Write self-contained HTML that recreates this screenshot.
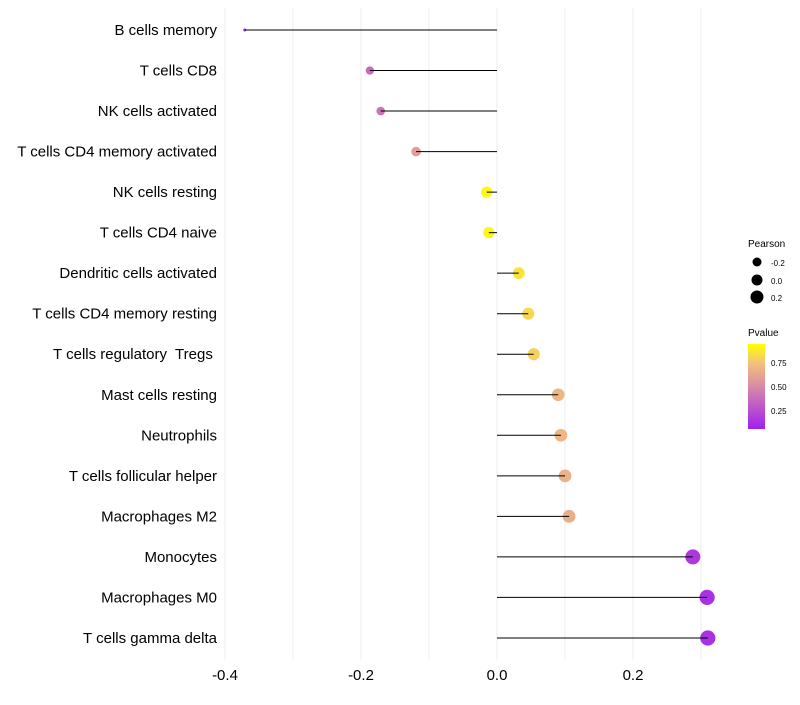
<!DOCTYPE html>
<html><head><meta charset="utf-8"><style>
body{margin:0;background:#fff;font-family:"Liberation Sans",sans-serif}
text{white-space:pre}
</style></head><body>
<svg id="chart" width="800" height="700" xmlns="http://www.w3.org/2000/svg">
<defs><linearGradient id="pg" x1="0" y1="1" x2="0" y2="0">
<stop offset="0" stop-color="#a020f0"/><stop offset="0.5" stop-color="#d88aa6"/><stop offset="0.78" stop-color="#f4c27a"/><stop offset="1" stop-color="#ffff00"/>
</linearGradient></defs>
<g id="grid"></g><g id="marks"></g><g id="labels"></g>
<g font-size="10">
<text x="748" y="247" fill="#000">Pearson</text>
<circle cx="757" cy="262" r="4.5" fill="#000"/><text x="771" y="266" font-size="8">-0.2</text>
<circle cx="757" cy="280" r="5.5" fill="#000"/><text x="771" y="284" font-size="8">0.0</text>
<circle cx="757" cy="297" r="6.5" fill="#000"/><text x="771" y="301" font-size="8">0.2</text>
<text x="748" y="336" fill="#000">Pvalue</text>
<rect x="748" y="344" width="17" height="85" fill="url(#pg)"/>
<text x="771" y="366" font-size="8">0.75</text>
<text x="771" y="390" font-size="8">0.50</text>
<text x="771" y="414" font-size="8">0.25</text>
</g>
</svg>
<script>
const categories=["B cells memory","T cells CD8","NK cells activated","T cells CD4 memory activated","NK cells resting","T cells CD4 naive","Dendritic cells activated","T cells CD4 memory resting","T cells regulatory  Tregs ","Mast cells resting","Neutrophils","T cells follicular helper","Macrophages M2","Monocytes","Macrophages M0","T cells gamma delta"];
const pearson=[-0.371,-0.187,-0.171,-0.119,-0.015,-0.012,0.032,0.046,0.054,0.090,0.094,0.100,0.106,0.288,0.309,0.310];
const pvalue=[0.05,0.35,0.38,0.6,0.97,0.97,0.9,0.86,0.83,0.72,0.72,0.7,0.68,0.12,0.08,0.08];
const xticks=[-0.4,-0.2,0.0,0.2];
const NS="http://www.w3.org/2000/svg";
function xs(v){return 497+v*680;}
function ys(i){return 30+i*40.53;}
function rs(v){return Math.sqrt(2.25+(v+0.37)*82);}
function lerp(a,b,t){return a.map((x,k)=>Math.round(x+(b[k]-x)*t));}
function col(p){const c0=[160,32,240],c1=[216,138,166],c2=[244,194,122],c3=[255,255,0];
let c;if(p<0.5)c=lerp(c0,c1,p/0.5);else if(p<0.78)c=lerp(c1,c2,(p-0.5)/0.28);else c=lerp(c2,c3,(p-0.78)/0.22);
return `rgb(${c.join(',')})`;}
function mk(t,a,parent){const e=document.createElementNS(NS,t);for(const k in a)e.setAttribute(k,a[k]);document.getElementById(parent).appendChild(e);return e;}
for(let g=-0.4;g<=0.301;g+=0.1){
const l=mk('line',{x1:xs(g),x2:xs(g),y1:8,y2:660,stroke:'#ededed','stroke-width':1},'grid');

}
xticks.forEach(t=>{const e=mk('text',{x:xs(t),y:680,'text-anchor':'middle','font-size':15,fill:'#000'},'labels');e.textContent=t.toFixed(1);

});
categories.forEach((c,i)=>{
const y=ys(i);
const t=mk('text',{x:217,y:y+5,'text-anchor':'end','font-size':15,fill:'#000'},'labels');t.textContent=c;


const ci=mk('circle',{cx:xs(pearson[i]),cy:y,r:rs(pearson[i]),fill:col(pvalue[i])},'marks');


const l=mk('line',{x1:xs(0),x2:xs(pearson[i]),y1:y,y2:y,stroke:'#000','stroke-width':1},'marks');


});
</script>
</body></html>
